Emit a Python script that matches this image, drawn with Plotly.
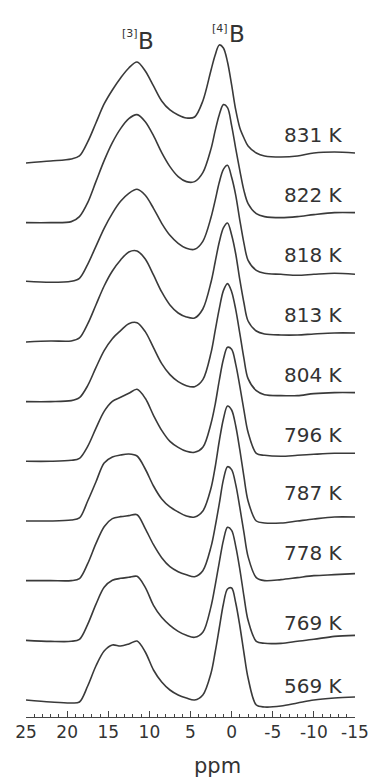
import plotly.graph_objects as go

# ---------------- data ----------------
ppm = [25, 22, 19.5, 18.5, 17.5, 16.5, 15.5, 14.5, 13.5, 12.5, 11.5, 10.5, 9.5, 8.5,
       7.5, 6.5, 5.5, 4.5, 3.5, 2.5, 2, 1.5, 1, 0.5, 0, -0.5, -1, -1.5, -2, -3, -4,
       -6, -8, -10, -12.5, -15]

temps = ["569 K", "769 K", "778 K", "787 K", "796 K", "804 K", "813 K", "818 K", "822 K", "831 K"]

i569 = [0, -2, -3, -2, 14, 34, 49, 55, 54, 56, 59, 48, 30, 18, 10, 5, 2, 0, 5, 27, 48, 72, 96, 111, 112, 97, 74, 47, 22, -5, -7, -6, -3, 0, 2, 3]
i769 = [0, -1, -1, 1, 16, 36, 53, 60, 62, 63, 64, 53, 35, 23, 15, 9, 5, 3, 8, 34, 55, 78, 100, 113, 110, 94, 71, 44, 20, -1, -3, -3, -1, 1, 4, 5]
i778 = [0, 0, 0, 2, 17, 37, 54, 62, 64, 65, 66, 52, 36, 23, 14, 9, 6, 4, 10, 34, 54, 77, 101, 114, 111, 96, 73, 48, 24, 3, 0, 1, 3, 5, 6, 7]
i787 = [0, 0, 1, 3, 20, 39, 58, 64, 66, 67, 65, 52, 35, 22, 14, 9, 5, 4, 10, 33, 54, 80, 102, 115, 111, 95, 71, 44, 20, 0, -2, -2, 0, 2, 4, 4]
i796 = [0, 0, 1, 3, 15, 33, 50, 60, 64, 68, 72, 63, 46, 31, 20, 14, 10, 9, 14, 38, 57, 81, 102, 114, 112, 97, 75, 51, 29, 8, 6, 5, 6, 7, 8, 8]
i804 = [0, 0, 1, 4, 16, 34, 51, 63, 71, 78, 79, 70, 54, 38, 27, 20, 16, 15, 22, 49, 71, 93, 111, 118, 110, 92, 68, 43, 23, 11, 7, 6, 6, 8, 9, 9]
i813 = [0, 1, 1, 4, 18, 37, 56, 71, 82, 90, 91, 83, 67, 50, 37, 29, 25, 24, 33, 60, 80, 100, 114, 119, 107, 88, 62, 39, 21, 11, 8, 7, 7, 8, 9, 9]
i818 = [1, 0, 1, 4, 18, 36, 54, 69, 81, 89, 93, 87, 74, 59, 47, 39, 34, 33, 41, 65, 82, 100, 113, 117, 105, 87, 62, 39, 22, 12, 9, 8, 7, 8, 9, 8]
i822 = [0, 0, 1, 6, 20, 41, 62, 80, 94, 104, 108, 101, 87, 70, 56, 46, 41, 41, 50, 74, 92, 108, 118, 115, 97, 74, 52, 32, 19, 9, 6, 5, 6, 8, 10, 10]
i831 = [0, 2, 4, 7, 21, 40, 59, 73, 85, 95, 101, 92, 77, 62, 53, 48, 45, 46, 62, 93, 108, 118, 115, 101, 78, 53, 35, 25, 17, 10, 7, 6, 7, 10, 11, 10]

spectra = [i569, i769, i778, i787, i796, i804, i813, i818, i822, i831]

tick_vals = [25, 20, 15, 10, 5, 0, -5, -10, -15]
tick_text = ["25", "20", "15", "10", "5", "0", "-5", "-10", "-15"]

# ---------------- layout constants ----------------
FONT = "DejaVu Sans"
INK = "#333333"
LINE = "#3a3a3a"
BASE0 = 17          # baseline of the lowest spectrum (y units = pixels)
STEP = 59.67        # vertical stacking offset
LABEL_RISE = [14, 17, 28, 28, 26, 27, 27, 27, 28, 28]
YMAX = 717

fig = go.Figure()
for k, vals in enumerate(spectra):
    off = BASE0 + k * STEP
    fig.add_trace(go.Scatter(
        x=ppm, y=[v + off for v in vals], mode="lines",
        line=dict(color=LINE, width=1.6, shape="spline", smoothing=0.9),
        showlegend=False, hoverinfo="skip"))
    fig.add_annotation(x=-10.0, y=off + LABEL_RISE[k], xref="x", yref="y",
                       text=temps[k], showarrow=False, xanchor="center", yanchor="middle",
                       font=dict(family=FONT, size=20, color=INK))

# peak assignments
fig.add_annotation(x=10.45, y=YMAX - 41, xref="x", yref="y", text="B", showarrow=False,
                   xanchor="center", yanchor="middle", font=dict(family=FONT, size=23, color=INK))
fig.add_annotation(x=12.3, y=YMAX - 33, xref="x", yref="y", text="[3]", showarrow=False,
                   xanchor="center", yanchor="middle", font=dict(family=FONT, size=11, color=INK))
fig.add_annotation(x=-0.6, y=YMAX - 34, xref="x", yref="y", text="B", showarrow=False,
                   xanchor="center", yanchor="middle", font=dict(family=FONT, size=23, color=INK))
fig.add_annotation(x=1.4, y=YMAX - 28, xref="x", yref="y", text="[4]", showarrow=False,
                   xanchor="center", yanchor="middle", font=dict(family=FONT, size=11, color=INK))

# axis title (paper coordinates so it is not hidden below the axis range)
fig.add_annotation(x=1.66, y=(YMAX - 766) / YMAX, xref="x", yref="paper", text="ppm",
                   showarrow=False, xanchor="center", yanchor="middle",
                   font=dict(family=FONT, size=21, color=INK))

fig.update_layout(
    width=375, height=780,
    margin=dict(l=26, r=20, t=0, b=63),
    paper_bgcolor="white", plot_bgcolor="white",
    xaxis=dict(range=[25, -15], showline=True, linecolor="#444444", linewidth=1,
               ticks="inside", ticklen=6, tickwidth=1, tickcolor="#444444",
               tickmode="array", tickvals=tick_vals, ticktext=tick_text,
               tickfont=dict(family=FONT, size=17, color=INK),
               minor=dict(tickmode="array", tickvals=list(range(-15, 26)),
                          ticks="inside", ticklen=3, tickwidth=1, tickcolor="#444444"),
               showgrid=False, zeroline=False, fixedrange=True, automargin=False),
    yaxis=dict(range=[0, YMAX], visible=False, fixedrange=True),
)

fig.write_html("out.html", config={"staticPlot": True},
               post_script="document.body.style.margin='0';document.body.style.overflow='hidden';")
